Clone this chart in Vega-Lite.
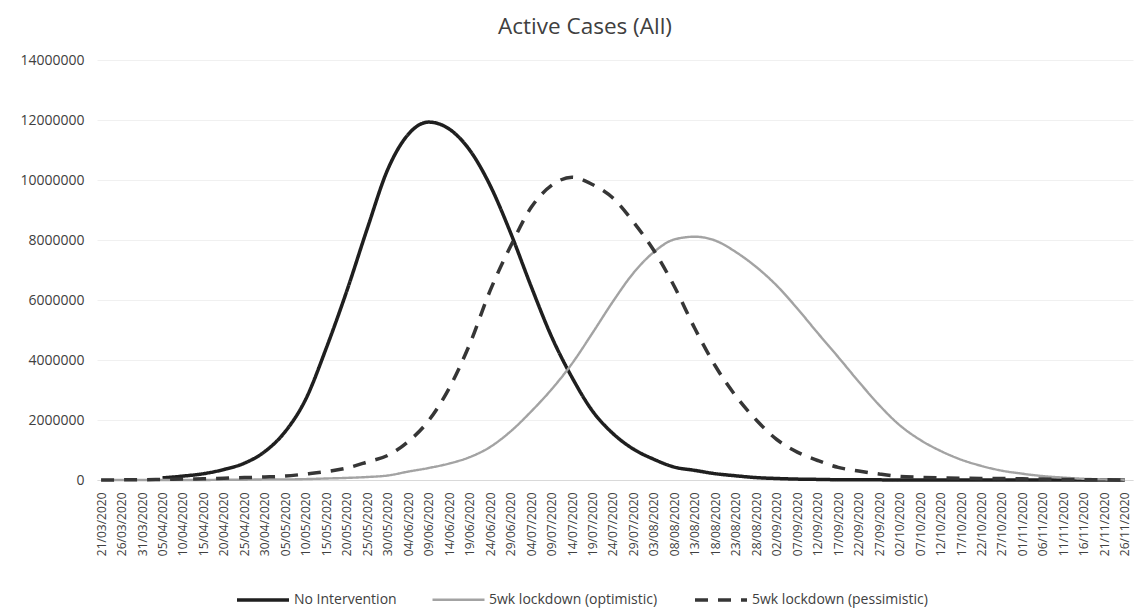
{
  "$schema": "https://vega.github.io/schema/vega-lite/v6.json",
  "width": 1036,
  "height": 420,
  "autosize": {"type": "none"},
  "padding": {"left": 97, "top": 60, "right": 2, "bottom": 129},
  "background": "white",
  "title": {
    "text": "Active Cases (All)",
    "font": "Open Sans",
    "fontSize": 22.5,
    "fontWeight": "normal",
    "color": "#404040",
    "anchor": "middle",
    "frame": "group",
    "dx": -30,
    "offset": -3,
    "baseline": "alphabetic"
  },
  "data": {
    "values": [
      {"date": "2020-03-21", "5wk lockdown (optimistic)": 0, "5wk lockdown (pessimistic)": 0},
      {"date": "2020-03-26", "5wk lockdown (optimistic)": 0, "5wk lockdown (pessimistic)": 5000},
      {"date": "2020-03-31", "5wk lockdown (optimistic)": 0, "5wk lockdown (pessimistic)": 10000},
      {"date": "2020-04-05", "No Intervention": 70000, "5wk lockdown (optimistic)": 0, "5wk lockdown (pessimistic)": 20000},
      {"date": "2020-04-10", "No Intervention": 130000, "5wk lockdown (optimistic)": 0, "5wk lockdown (pessimistic)": 30000},
      {"date": "2020-04-15", "No Intervention": 210000, "5wk lockdown (optimistic)": 0, "5wk lockdown (pessimistic)": 40000},
      {"date": "2020-04-20", "No Intervention": 350000, "5wk lockdown (optimistic)": 10000, "5wk lockdown (pessimistic)": 60000},
      {"date": "2020-04-25", "No Intervention": 560000, "5wk lockdown (optimistic)": 10000, "5wk lockdown (pessimistic)": 80000},
      {"date": "2020-04-30", "No Intervention": 950000, "5wk lockdown (optimistic)": 20000, "5wk lockdown (pessimistic)": 100000},
      {"date": "2020-05-05", "No Intervention": 1620000, "5wk lockdown (optimistic)": 20000, "5wk lockdown (pessimistic)": 130000},
      {"date": "2020-05-10", "No Intervention": 2700000, "5wk lockdown (optimistic)": 30000, "5wk lockdown (pessimistic)": 200000},
      {"date": "2020-05-15", "No Intervention": 4400000, "5wk lockdown (optimistic)": 50000, "5wk lockdown (pessimistic)": 280000},
      {"date": "2020-05-20", "No Intervention": 6300000, "5wk lockdown (optimistic)": 70000, "5wk lockdown (pessimistic)": 400000},
      {"date": "2020-05-25", "No Intervention": 8380000, "5wk lockdown (optimistic)": 100000, "5wk lockdown (pessimistic)": 600000},
      {"date": "2020-05-30", "No Intervention": 10350000, "5wk lockdown (optimistic)": 150000, "5wk lockdown (pessimistic)": 820000},
      {"date": "2020-06-04", "No Intervention": 11520000, "5wk lockdown (optimistic)": 280000, "5wk lockdown (pessimistic)": 1280000},
      {"date": "2020-06-09", "No Intervention": 11930000, "5wk lockdown (optimistic)": 400000, "5wk lockdown (pessimistic)": 1980000},
      {"date": "2020-06-14", "No Intervention": 11700000, "5wk lockdown (optimistic)": 550000, "5wk lockdown (pessimistic)": 3060000},
      {"date": "2020-06-19", "No Intervention": 11000000, "5wk lockdown (optimistic)": 760000, "5wk lockdown (pessimistic)": 4520000},
      {"date": "2020-06-24", "No Intervention": 9820000, "5wk lockdown (optimistic)": 1100000, "5wk lockdown (pessimistic)": 6310000},
      {"date": "2020-06-29", "No Intervention": 8240000, "5wk lockdown (optimistic)": 1620000, "5wk lockdown (pessimistic)": 7790000},
      {"date": "2020-07-04", "No Intervention": 6460000, "5wk lockdown (optimistic)": 2280000, "5wk lockdown (pessimistic)": 9080000},
      {"date": "2020-07-09", "No Intervention": 4780000, "5wk lockdown (optimistic)": 3020000, "5wk lockdown (pessimistic)": 9820000},
      {"date": "2020-07-14", "No Intervention": 3420000, "5wk lockdown (optimistic)": 3880000, "5wk lockdown (pessimistic)": 10090000},
      {"date": "2020-07-19", "No Intervention": 2300000, "5wk lockdown (optimistic)": 4900000, "5wk lockdown (pessimistic)": 9850000},
      {"date": "2020-07-24", "No Intervention": 1550000, "5wk lockdown (optimistic)": 5950000, "5wk lockdown (pessimistic)": 9400000},
      {"date": "2020-07-29", "No Intervention": 1030000, "5wk lockdown (optimistic)": 6900000, "5wk lockdown (pessimistic)": 8600000},
      {"date": "2020-08-03", "No Intervention": 690000, "5wk lockdown (optimistic)": 7600000, "5wk lockdown (pessimistic)": 7650000},
      {"date": "2020-08-08", "No Intervention": 430000, "5wk lockdown (optimistic)": 8020000, "5wk lockdown (pessimistic)": 6450000},
      {"date": "2020-08-13", "No Intervention": 320000, "5wk lockdown (optimistic)": 8110000, "5wk lockdown (pessimistic)": 5050000},
      {"date": "2020-08-18", "No Intervention": 210000, "5wk lockdown (optimistic)": 7980000, "5wk lockdown (pessimistic)": 3800000},
      {"date": "2020-08-23", "No Intervention": 140000, "5wk lockdown (optimistic)": 7600000, "5wk lockdown (pessimistic)": 2800000},
      {"date": "2020-08-28", "No Intervention": 80000, "5wk lockdown (optimistic)": 7100000, "5wk lockdown (pessimistic)": 2000000},
      {"date": "2020-09-02", "No Intervention": 50000, "5wk lockdown (optimistic)": 6480000, "5wk lockdown (pessimistic)": 1350000},
      {"date": "2020-09-07", "No Intervention": 30000, "5wk lockdown (optimistic)": 5720000, "5wk lockdown (pessimistic)": 930000},
      {"date": "2020-09-12", "No Intervention": 20000, "5wk lockdown (optimistic)": 4900000, "5wk lockdown (pessimistic)": 650000},
      {"date": "2020-09-17", "No Intervention": 10000, "5wk lockdown (optimistic)": 4100000, "5wk lockdown (pessimistic)": 420000},
      {"date": "2020-09-22", "No Intervention": 10000, "5wk lockdown (optimistic)": 3280000, "5wk lockdown (pessimistic)": 300000},
      {"date": "2020-09-27", "No Intervention": 5000, "5wk lockdown (optimistic)": 2500000, "5wk lockdown (pessimistic)": 200000},
      {"date": "2020-10-02", "No Intervention": 0, "5wk lockdown (optimistic)": 1830000, "5wk lockdown (pessimistic)": 120000},
      {"date": "2020-10-07", "No Intervention": 0, "5wk lockdown (optimistic)": 1340000, "5wk lockdown (pessimistic)": 90000},
      {"date": "2020-10-12", "No Intervention": 0, "5wk lockdown (optimistic)": 970000, "5wk lockdown (pessimistic)": 70000},
      {"date": "2020-10-17", "No Intervention": 0, "5wk lockdown (optimistic)": 680000, "5wk lockdown (pessimistic)": 60000},
      {"date": "2020-10-22", "No Intervention": 0, "5wk lockdown (optimistic)": 470000, "5wk lockdown (pessimistic)": 50000},
      {"date": "2020-10-27", "No Intervention": 0, "5wk lockdown (optimistic)": 310000, "5wk lockdown (pessimistic)": 50000},
      {"date": "2020-11-01", "No Intervention": 0, "5wk lockdown (optimistic)": 210000, "5wk lockdown (pessimistic)": 40000},
      {"date": "2020-11-06", "No Intervention": 0, "5wk lockdown (optimistic)": 130000, "5wk lockdown (pessimistic)": 30000},
      {"date": "2020-11-11", "No Intervention": 0, "5wk lockdown (optimistic)": 80000, "5wk lockdown (pessimistic)": 20000},
      {"date": "2020-11-16", "No Intervention": 0, "5wk lockdown (optimistic)": 40000, "5wk lockdown (pessimistic)": 10000},
      {"date": "2020-11-21", "No Intervention": 0, "5wk lockdown (optimistic)": 20000, "5wk lockdown (pessimistic)": 5000},
      {"date": "2020-11-26", "No Intervention": 0, "5wk lockdown (optimistic)": 10000, "5wk lockdown (pessimistic)": 0}
    ]
  },
  "transform": [
    {"fold": ["No Intervention", "5wk lockdown (optimistic)", "5wk lockdown (pessimistic)"], "as": ["series", "cases"]}
  ],
  "mark": {"type": "line", "interpolate": "monotone", "strokeCap": "butt", "strokeJoin": "round"},
  "encoding": {
    "x": {
      "field": "date",
      "type": "temporal",
      "scale": {
        "type": "utc",
        "domain": [
          {"year": 2020, "month": 3, "date": 20, "utc": true},
          {"year": 2020, "month": 11, "date": 28, "utc": true}
        ]
      },
      "axis": {
        "title": null,
        "values": [
          {"year": 2020, "month": 3, "date": 21, "utc": true},
          {"year": 2020, "month": 3, "date": 26, "utc": true},
          {"year": 2020, "month": 3, "date": 31, "utc": true},
          {"year": 2020, "month": 4, "date": 5, "utc": true},
          {"year": 2020, "month": 4, "date": 10, "utc": true},
          {"year": 2020, "month": 4, "date": 15, "utc": true},
          {"year": 2020, "month": 4, "date": 20, "utc": true},
          {"year": 2020, "month": 4, "date": 25, "utc": true},
          {"year": 2020, "month": 4, "date": 30, "utc": true},
          {"year": 2020, "month": 5, "date": 5, "utc": true},
          {"year": 2020, "month": 5, "date": 10, "utc": true},
          {"year": 2020, "month": 5, "date": 15, "utc": true},
          {"year": 2020, "month": 5, "date": 20, "utc": true},
          {"year": 2020, "month": 5, "date": 25, "utc": true},
          {"year": 2020, "month": 5, "date": 30, "utc": true},
          {"year": 2020, "month": 6, "date": 4, "utc": true},
          {"year": 2020, "month": 6, "date": 9, "utc": true},
          {"year": 2020, "month": 6, "date": 14, "utc": true},
          {"year": 2020, "month": 6, "date": 19, "utc": true},
          {"year": 2020, "month": 6, "date": 24, "utc": true},
          {"year": 2020, "month": 6, "date": 29, "utc": true},
          {"year": 2020, "month": 7, "date": 4, "utc": true},
          {"year": 2020, "month": 7, "date": 9, "utc": true},
          {"year": 2020, "month": 7, "date": 14, "utc": true},
          {"year": 2020, "month": 7, "date": 19, "utc": true},
          {"year": 2020, "month": 7, "date": 24, "utc": true},
          {"year": 2020, "month": 7, "date": 29, "utc": true},
          {"year": 2020, "month": 8, "date": 3, "utc": true},
          {"year": 2020, "month": 8, "date": 8, "utc": true},
          {"year": 2020, "month": 8, "date": 13, "utc": true},
          {"year": 2020, "month": 8, "date": 18, "utc": true},
          {"year": 2020, "month": 8, "date": 23, "utc": true},
          {"year": 2020, "month": 8, "date": 28, "utc": true},
          {"year": 2020, "month": 9, "date": 2, "utc": true},
          {"year": 2020, "month": 9, "date": 7, "utc": true},
          {"year": 2020, "month": 9, "date": 12, "utc": true},
          {"year": 2020, "month": 9, "date": 17, "utc": true},
          {"year": 2020, "month": 9, "date": 22, "utc": true},
          {"year": 2020, "month": 9, "date": 27, "utc": true},
          {"year": 2020, "month": 10, "date": 2, "utc": true},
          {"year": 2020, "month": 10, "date": 7, "utc": true},
          {"year": 2020, "month": 10, "date": 12, "utc": true},
          {"year": 2020, "month": 10, "date": 17, "utc": true},
          {"year": 2020, "month": 10, "date": 22, "utc": true},
          {"year": 2020, "month": 10, "date": 27, "utc": true},
          {"year": 2020, "month": 11, "date": 1, "utc": true},
          {"year": 2020, "month": 11, "date": 6, "utc": true},
          {"year": 2020, "month": 11, "date": 11, "utc": true},
          {"year": 2020, "month": 11, "date": 16, "utc": true},
          {"year": 2020, "month": 11, "date": 21, "utc": true},
          {"year": 2020, "month": 11, "date": 26, "utc": true}
        ],
        "labelExpr": "utcFormat(datum.value, '%d/%m/%Y')",
        "labelAngle": 270,
        "labelFont": "Open Sans",
        "labelFontSize": 12,
        "labelColor": "#404040",
        "labelPadding": 12,
        "ticks": false,
        "grid": false,
        "domainColor": "#d9d9d9",
        "labelOverlap": false,
        "labelBound": false,
        "labelFlush": false
      }
    },
    "y": {
      "field": "cases",
      "type": "quantitative",
      "scale": {"domain": [0, 14000000], "nice": false},
      "axis": {
        "title": null,
        "values": [0, 2000000, 4000000, 6000000, 8000000, 10000000, 12000000, 14000000],
        "format": "d",
        "labelFont": "Open Sans",
        "labelFontSize": 14,
        "labelColor": "#404040",
        "labelPadding": 13,
        "ticks": false,
        "domain": false,
        "grid": true,
        "gridColor": "#f0f0f0"
      }
    },
    "color": {
      "field": "series",
      "type": "nominal",
      "scale": {
        "domain": ["No Intervention", "5wk lockdown (optimistic)", "5wk lockdown (pessimistic)"],
        "range": ["#1f1f1f", "#a3a3a3", "#363636"]
      },
      "legend": {
        "title": null,
        "orient": "none",
        "legendX": 138,
        "legendY": 512,
        "direction": "horizontal",
        "labelFont": "Open Sans",
        "labelFontSize": 14,
        "labelColor": "#404040",
        "labelLimit": 400,
        "symbolType": "stroke",
        "symbolSize": 2704,
        "columnPadding": 30,
        "labelOffset": 3
      }
    },
    "strokeDash": {
      "field": "series",
      "type": "nominal",
      "scale": {
        "domain": ["No Intervention", "5wk lockdown (optimistic)", "5wk lockdown (pessimistic)"],
        "range": [[1, 0], [1, 0], [13, 10]]
      },
      "legend": {"title": null}
    },
    "strokeWidth": {
      "field": "series",
      "type": "nominal",
      "scale": {
        "type": "ordinal",
        "domain": ["No Intervention", "5wk lockdown (optimistic)", "5wk lockdown (pessimistic)"],
        "range": [3.5, 2.4, 3.5]
      },
      "legend": {"title": null}
    }
  },
  "config": {
    "view": {"stroke": null}
  }
}
